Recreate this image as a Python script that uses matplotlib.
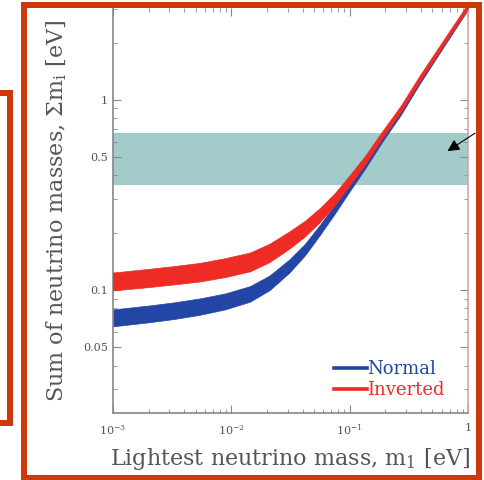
import numpy as np
import matplotlib
matplotlib.use("Agg")
import matplotlib.pyplot as plt
from matplotlib.patches import Rectangle
from matplotlib.lines import Line2D

# lightest neutrino mass m1 [eV] and the band edges of the summed mass [eV]
m1 = [0.001, 0.002, 0.0033, 0.0054, 0.0089, 0.0144, 0.021, 0.031, 0.042,
      0.056, 0.075, 0.10, 0.135, 0.19, 0.27, 0.39, 0.64, 1.0]
normal_hi = [0.0789, 0.0827, 0.0860, 0.0901, 0.0958, 0.1047, 0.1189, 0.1448, 0.1750,
             0.2195, 0.2812, 0.3638, 0.4730, 0.6518, 0.886, 1.280, 2.041, 3.098]
normal_lo = [0.0643, 0.0675, 0.0703, 0.0739, 0.0790, 0.0867, 0.0996, 0.1234, 0.1522,
             0.1944, 0.2522, 0.3303, 0.4346, 0.6062, 0.832, 1.213, 1.954, 2.988]
inverted_hi = [0.1234, 0.1289, 0.1335, 0.1386, 0.1469, 0.1572, 0.1748, 0.2032, 0.2312,
               0.2696, 0.3232, 0.4009, 0.5074, 0.6882, 0.931, 1.340, 2.127, 3.213]
inverted_lo = [0.0993, 0.1034, 0.1069, 0.1107, 0.1168, 0.1252, 0.1400, 0.1650, 0.1914,
               0.2276, 0.2795, 0.3552, 0.4572, 0.6323, 0.862, 1.246, 1.993, 3.024]

# cosmological bound band on the sum of masses
band_lo = 0.357
band_hi = 0.67

xticks = [1e-3, 1e-2, 1e-1, 1]
xtick_labels = [r"$10^{-3}$", r"$10^{-2}$", r"$10^{-1}$", "1"]
yticks = [0.05, 0.1, 0.5, 1]
ytick_labels = ["0.05", "0.1", "0.5", "1"]

blue = "#2346a6"
red = "#ee2b25"
teal = "#a2cbca"
frame_col = "#cc3a0c"
grey = "#555555"

plt.rcParams["font.family"] = "DejaVu Serif"
plt.rcParams["mathtext.fontset"] = "dejavuserif"

fig = plt.figure(figsize=(4.85, 4.8), dpi=100)
ax = fig.add_axes([113 / 485, 1 - 413 / 480, 355 / 485, 405 / 480])

ax.set_xscale("log")
ax.set_yscale("log")
ax.set_xlim(1e-3, 1)
ax.set_ylim(0.0225, 3.04)

ax.axhspan(band_lo, band_hi, color=teal, lw=0, zorder=1)

ax.fill_between(m1, normal_lo, normal_hi, color=blue, lw=0.5, ec=blue, zorder=2)
ax.fill_between(m1, inverted_lo, inverted_hi, color=red, lw=0.5, ec=red, zorder=3)

ax.set_xticks(xticks)
ax.set_xticklabels(xtick_labels)
ax.set_yticks(yticks)
ax.set_yticklabels(ytick_labels)
ax.tick_params(which="both", direction="in", top=True, right=True, colors="#888888",
               labelcolor=grey, labelsize=8)
ax.tick_params(which="major", length=6, width=0.8)
ax.tick_params(which="minor", length=3, width=0.6)
ax.tick_params(axis="x", pad=7)

for side in ["left", "bottom"]:
    ax.spines[side].set_color("#888888")
    ax.spines[side].set_linewidth(1.2)
ax.spines["top"].set_visible(False)
ax.spines["right"].set_color("#d9a3ab")
ax.spines["right"].set_linewidth(1.2)

ax.set_xlabel(r"Lightest neutrino mass, m$_\mathregular{1}$ [eV]", fontsize=16,
              color=grey, labelpad=6)
ax.set_ylabel(r"Sum of neutrino masses, $\Sigma$m$_\mathregular{i}$ [eV]", fontsize=16,
              color=grey, labelpad=10)

handles = [Line2D([], [], color=blue, lw=2.6), Line2D([], [], color=red, lw=2.6)]
leg = ax.legend(handles, ["Normal", "Inverted"], loc="lower right", frameon=False,
                fontsize=13, handlelength=1.8, handletextpad=0.05, labelspacing=0.15,
                borderpad=0, borderaxespad=0, bbox_to_anchor=(0.935, 0.035))
for txt, c in zip(leg.get_texts(), [blue, red]):
    txt.set_color(c)

# arrow coming in from the right pointing at the band
ax.annotate("", xy=(0.64, 0.527), xytext=(1.2, 0.68), annotation_clip=False,
            arrowprops=dict(arrowstyle="-|>", color="black", lw=0.8,
                            mutation_scale=18), zorder=5)

# red highlight frames drawn in pixel space over the whole figure
over = fig.add_axes([0, 0, 1, 1], zorder=10)
over.set_xlim(0, 485)
over.set_ylim(480, 0)
over.axis("off")
over.patch.set_alpha(0)
lw_pt = 6 * 72 / 100
over.add_patch(Rectangle((24, 4.5), 455, 473, fill=False, ec=frame_col, lw=lw_pt))
over.add_patch(Rectangle((-20, 93), 30, 330, fill=False, ec=frame_col, lw=lw_pt))

fig.savefig("out.png", dpi=100)
